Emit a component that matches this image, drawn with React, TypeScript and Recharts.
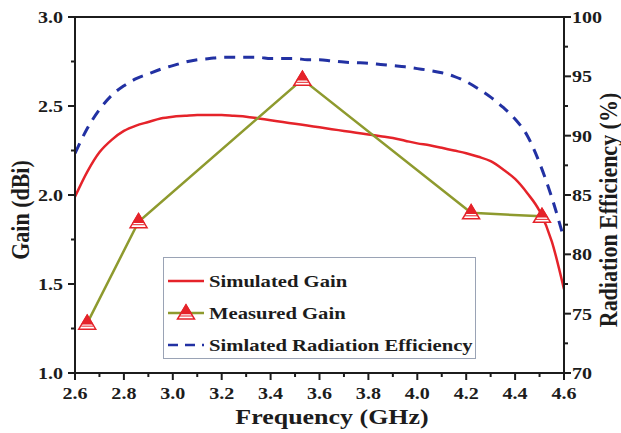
import React from 'react';
import { ComposedChart, Line, XAxis, YAxis, ReferenceLine, Legend } from 'recharts';

// Simulated gain (dBi) vs frequency (GHz)
const simFreq = [2.6, 2.65, 2.7, 2.75, 2.8, 2.85, 2.9, 2.95, 3.0, 3.05, 3.1, 3.15, 3.2, 3.25, 3.3, 3.35, 3.4, 3.45, 3.5, 3.55, 3.6, 3.65, 3.7, 3.75, 3.8, 3.85, 3.9, 3.95, 4.0, 4.05, 4.1, 4.15, 4.2, 4.25, 4.3, 4.35, 4.4, 4.45, 4.5, 4.55, 4.6];
const simGain = [1.99, 2.13, 2.24, 2.31, 2.36, 2.39, 2.41, 2.43, 2.44, 2.445, 2.45, 2.45, 2.45, 2.445, 2.44, 2.43, 2.42, 2.41, 2.4, 2.39, 2.38, 2.37, 2.36, 2.35, 2.34, 2.33, 2.32, 2.305, 2.29, 2.28, 2.265, 2.25, 2.235, 2.215, 2.19, 2.145, 2.09, 2.01, 1.91, 1.74, 1.47];

// Measured gain (dBi)
const measFreq = [2.65, 2.86, 3.53, 4.22, 4.51];
const measGain = [1.28, 1.85, 2.65, 1.9, 1.88];

// Simulated radiation efficiency (%)
const effFreq = [2.6, 2.65, 2.7, 2.75, 2.8, 2.85, 2.9, 2.95, 3.0, 3.05, 3.1, 3.15, 3.2, 3.25, 3.3, 3.35, 3.4, 3.45, 3.5, 3.55, 3.6, 3.65, 3.7, 3.75, 3.8, 3.85, 3.9, 3.95, 4.0, 4.05, 4.1, 4.15, 4.2, 4.25, 4.3, 4.35, 4.4, 4.45, 4.5, 4.55, 4.6];
const effVal = [88.5, 90.6, 92.2, 93.4, 94.2, 94.8, 95.2, 95.6, 95.9, 96.2, 96.4, 96.5, 96.6, 96.6, 96.6, 96.6, 96.5, 96.5, 96.5, 96.4, 96.4, 96.3, 96.2, 96.15, 96.1, 96.0, 95.9, 95.8, 95.65, 95.5, 95.3, 95.0, 94.55, 93.95, 93.25, 92.4, 91.4, 90.0, 87.7, 84.8, 81.3];

const xTicks = [2.6, 2.7, 2.8, 2.9, 3.0, 3.1, 3.2, 3.3, 3.4, 3.5, 3.6, 3.7, 3.8, 3.9, 4.0, 4.1, 4.2, 4.3, 4.4, 4.5, 4.6];
const gainTicks = [1.0, 1.25, 1.5, 1.75, 2.0, 2.25, 2.5, 2.75, 3.0];
const effTicks = [70, 72.5, 75, 77.5, 80, 82.5, 85, 87.5, 90, 92.5, 95, 97.5, 100];

const legendItems = ['Simulated Gain', 'Measured Gain', 'Simlated Radiation Efficiency'];

const RED = '#e5232a';
const OLIVE = '#8e9a2e';
const BLUE = '#2231a3';
const INK = '#1c1c1c';
const FONT = '"Liberation Serif", "Times New Roman", serif';
const SX = 1.18;

const simData = simFreq.map((f, i) => ({ f, v: simGain[i] }));
const measData = measFreq.map((f, i) => ({ f, v: measGain[i] }));
const effData = effFreq.map((f, i) => ({ f, v: effVal[i] }));

const XTick = (props: any) => {
  const { x, y, payload } = props;
  const v = payload.value;
  const major = Math.round(v * 10) % 2 === 0;
  return (
    <g>
      <line x1={x} x2={x} y1={y} y2={y + (major ? 7 : 4)} stroke={INK} strokeWidth={2} />
      {major && (
        <text transform={`translate(${x},${y + 26}) scale(${SX},1)`} textAnchor="middle" fontSize={17} fontWeight="bold" fontFamily={FONT} fill={INK}>
          {v.toFixed(1)}
        </text>
      )}
    </g>
  );
};

const GainTick = (props: any) => {
  const { x, y, payload } = props;
  const v = payload.value;
  const major = Math.round(v * 100) % 50 === 0;
  return (
    <g>
      <line x1={x - (major ? 7 : 4)} x2={x} y1={y} y2={y} stroke={INK} strokeWidth={2} />
      {major && (
        <text transform={`translate(${x - 12},${y + 6}) scale(${SX},1)`} textAnchor="end" fontSize={17} fontWeight="bold" fontFamily={FONT} fill={INK}>
          {v.toFixed(1)}
        </text>
      )}
    </g>
  );
};

const EffTick = (props: any) => {
  const { x, y, payload } = props;
  const v = payload.value;
  const major = Math.round(v * 10) % 50 === 0;
  return (
    <g>
      <line x1={x} x2={x + (major ? 7 : 4)} y1={y} y2={y} stroke={INK} strokeWidth={2} />
      {major && (
        <text transform={`translate(${x + 8},${y + 6}) scale(${SX},1)`} textAnchor="start" fontSize={17} fontWeight="bold" fontFamily={FONT} fill={INK}>
          {v}
        </text>
      )}
    </g>
  );
};

const Tri = ({ cx, cy }: { cx: number; cy: number }) => (
  <g>
    <polygon points={`${cx},${cy - 8} ${cx - 8.5},${cy + 6} ${cx + 8.5},${cy + 6}`} fill="#fff" stroke={RED} strokeWidth={1.5} />
    <polygon points={`${cx},${cy - 8} ${cx - 5},${cy + 0.5} ${cx + 5},${cy + 0.5}`} fill={RED} stroke={RED} strokeWidth={1.5} />
    <line x1={cx - 6} x2={cx + 6} y1={cy + 3} y2={cy + 3} stroke={RED} strokeWidth={1} />
  </g>
);

const MeasDot = (props: any) => {
  const { cx, cy, index } = props;
  if (cx == null || cy == null) return <g key={index} />;
  return <Tri key={index} cx={cx} cy={cy} />;
};

const renderLegend = () => (
  <div style={{ width: 313, height: 102, border: '1px solid #9aa3b5', boxSizing: 'border-box', background: '#fff' }}>
    <svg width={311} height={100}>
      {legendItems.map((name, i) => {
        const y = 23 + i * 32;
        return (
          <g key={name}>
            {i === 0 && <line x1={4} x2={40} y1={y} y2={y} stroke={RED} strokeWidth={2.5} />}
            {i === 1 && (
              <g>
                <line x1={4} x2={40} y1={y} y2={y} stroke={OLIVE} strokeWidth={2.5} />
                <Tri cx={22} cy={y} />
              </g>
            )}
            {i === 2 && <line x1={4} x2={40} y1={y} y2={y} stroke={BLUE} strokeWidth={2.5} strokeDasharray="10 7" />}
            <text transform={`translate(45,${y + 6}) scale(${SX},1)`} fontSize={17.5} fontWeight="bold" fontFamily={FONT} fill={INK}>
              {name}
            </text>
          </g>
        );
      })}
    </svg>
  </div>
);

export default function App() {
  return (
    <div style={{ position: 'absolute', left: 0, top: 0, width: 621, height: 433, background: '#fff' }}>
      <ComposedChart width={621} height={433} margin={{ top: 17, right: 0, bottom: 0, left: 0 }}>
        <XAxis
          type="number"
          dataKey="f"
          domain={[2.6, 4.6]}
          ticks={xTicks}
          allowDataOverflow
          height={60}
          tickSize={0}
          tickMargin={0}
          tickLine={false}
          tick={<XTick />}
          axisLine={{ stroke: INK, strokeWidth: 2 }}
          interval={0}
        />
        <YAxis
          yAxisId="g"
          type="number"
          domain={[1, 3]}
          ticks={gainTicks}
          width={75}
          tickSize={0}
          tickMargin={0}
          tickLine={false}
          tick={<GainTick />}
          axisLine={{ stroke: INK, strokeWidth: 2 }}
          interval={0}
          allowDataOverflow
        />
        <YAxis
          yAxisId="e"
          orientation="right"
          type="number"
          domain={[70, 100]}
          ticks={effTicks}
          width={57}
          tickSize={0}
          tickMargin={0}
          tickLine={false}
          tick={<EffTick />}
          axisLine={{ stroke: INK, strokeWidth: 2 }}
          interval={0}
          allowDataOverflow
        />
        <ReferenceLine yAxisId="g" y={3} stroke={INK} strokeWidth={2} />
        <Line
          yAxisId="e"
          data={effData}
          dataKey="v"
          type="monotone"
          stroke={BLUE}
          strokeWidth={3}
          strokeDasharray="11 8"
          dot={false}
          isAnimationActive={false}
        />
        <Line
          yAxisId="g"
          data={simData}
          dataKey="v"
          type="monotone"
          stroke={RED}
          strokeWidth={2.5}
          dot={false}
          isAnimationActive={false}
        />
        <Line
          yAxisId="g"
          data={measData}
          dataKey="v"
          type="linear"
          stroke={OLIVE}
          strokeWidth={2.5}
          dot={<MeasDot />}
          isAnimationActive={false}
        />
        <Legend
          layout="vertical"
          align="center"
          verticalAlign="middle"
          content={renderLegend}
          wrapperStyle={{ position: 'absolute', left: 163, top: 257, width: 313, height: 102 }}
        />
      </ComposedChart>
      <svg width={621} height={433} style={{ position: 'absolute', left: 0, top: 0, pointerEvents: 'none' }}>
        <text transform={`translate(332,424) scale(${SX},1)`} textAnchor="middle" fontSize={22} fontWeight="bold" fontFamily={FONT} fill={INK}>
          Frequency (GHz)
        </text>
        <text transform={`translate(29,210) scale(${SX},1) rotate(-90)`} textAnchor="middle" fontSize={22} fontWeight="bold" fontFamily={FONT} fill={INK}>
          Gain (dBi)
        </text>
        <text transform={`translate(617,210) scale(${SX},1) rotate(-90)`} textAnchor="middle" fontSize={22} fontWeight="bold" fontFamily={FONT} fill={INK}>
          Radiation Efficiency (%)
        </text>
      </svg>
    </div>
  );
}
